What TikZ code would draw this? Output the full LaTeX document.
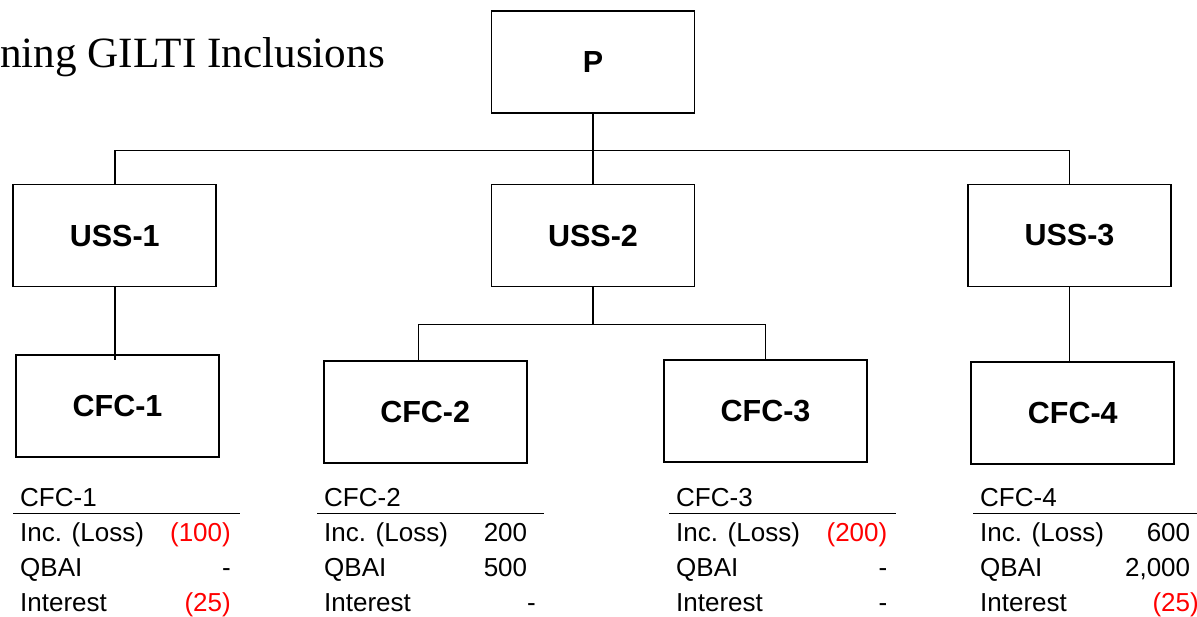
\documentclass[tikz,border=0pt]{standalone}
\usepackage{fontspec}
\setmainfont{Liberation Sans}
\newfontfamily\titlefont{Liberation Serif}
\usetikzlibrary{calc}

% values: losses in red parentheses, gains padded so digits line up
\newcommand\lossv[1]{\textcolor{red}{(#1)}}
\newcommand\gainv[1]{#1\phantom{)}}

% one financial summary under an entity box
% #1 id, #2 left end of the rule, #3 right edge of the value column,
% #4 heading, #5-#7 row values
\newcommand\cfctable[7]{%
  \node[cell, anchor=base west] (#1h) at (#2+7, 506.5) {#4};
  \draw[rule] (#2, 513.3) -- (#2+227, 513.3);
  \node[cell, anchor=base west] (#1a) at (#2+7, 541.5) {Inc. (Loss)};
  \node[cell, anchor=base west] (#1b) at (#2+7, 576.5) {QBAI};
  \node[cell, anchor=base west] (#1c) at (#2+7, 611.5) {Interest};
  \node[cell, anchor=base east] (#1av) at (#3, 541.5) {#5};
  \node[cell, anchor=base east] (#1bv) at (#3, 576.5) {#6};
  \node[cell, anchor=base east] (#1cv) at (#3, 611.5) {#7};
}

\begin{document}
\begin{tikzpicture}[x=1pt, y=-1pt,
  entity/.style={draw, line width=1.7pt, minimum width=203pt, minimum height=102pt,
    inner sep=0pt, font=\bfseries\fontsize{30.5}{36}\selectfont},
  link/.style={line width=1.4pt},
  cell/.style={inner sep=0pt, font=\fontsize{26}{31}\selectfont},
  rule/.style={line width=1.6pt}]
\useasboundingbox (0,0) rectangle (1197,616);

% heading
\node[font=\titlefont\fontsize{43.2}{50}\selectfont, anchor=base west, inner sep=0pt]
  (title) at (0,67) {ning GILTI Inclusions};

% ownership chart
\node[entity] (p)    at (593,62)      {P};
\node[entity] (uss1) at (114.8,235.5) {USS-1};
\node[entity] (uss2) at (593,235.5)   {USS-2};
\node[entity] (uss3) at (1069.5,235.5){USS-3};
\node[entity] (cfc1) at (117.5,405.7) {CFC-1};
\node[entity] (cfc2) at (425.2,412.3) {CFC-2};
\node[entity] (cfc3) at (765.5,411)   {CFC-3};
\node[entity] (cfc4) at (1072.8,412.8){CFC-4};

\draw[link] (p.south) -- ++(0,36.5) coordinate (bus1);
\draw[link] (uss1.north) |- (bus1) -| (uss3.north);
\draw[link] (bus1) -- (uss2.north);
\draw[link] (uss2.south) -- ++(0,37) coordinate (bus2);
\draw[link] ([xshift=-7pt]cfc2.north) |- (bus2) -| (cfc3.north);
\draw[link] (uss1.south) -- ([yshift=-6pt]uss1.south |- cfc1.north);
\draw[link] (uss3.south) -- (uss3.south |- cfc4.north);

% summaries
\cfctable{t1}{13}{231}{CFC-1}{\lossv{100}}{-}{\lossv{25}}
\cfctable{t2}{317}{536}{CFC-2}{\gainv{200}}{\gainv{500}}{-}
\cfctable{t3}{669}{887.5}{CFC-3}{\lossv{200}}{-}{-}
\cfctable{t4}{973}{1199}{CFC-4}{\gainv{600}}{\gainv{2,000}}{\lossv{25}}
\end{tikzpicture}
\end{document}
